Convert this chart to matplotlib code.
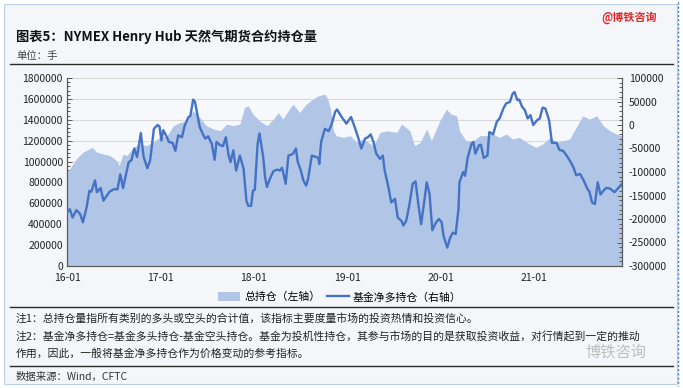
import matplotlib
matplotlib.use("Agg")
import matplotlib.pyplot as plt
from matplotlib.patches import Rectangle, Patch
from matplotlib.lines import Line2D
from matplotlib.ticker import MultipleLocator, FuncFormatter

plt.rcParams['font.family'] = ['Noto Sans CJK SC', 'DejaVu Sans']

# total open interest (left axis), decimal year / contracts
oi_year = [2016.00, 2016.03, 2016.10, 2016.17, 2016.27, 2016.32, 2016.39, 2016.46, 2016.53, 2016.56,
           2016.60, 2016.64, 2016.71, 2016.78, 2016.85, 2016.92, 2016.99, 2017.07, 2017.14, 2017.21,
           2017.28, 2017.35, 2017.42, 2017.49, 2017.57, 2017.64, 2017.71, 2017.78, 2017.85, 2017.90,
           2017.94, 2017.99, 2018.06, 2018.14, 2018.21, 2018.26, 2018.31, 2018.39, 2018.42, 2018.49,
           2018.56, 2018.63, 2018.69, 2018.76, 2018.79, 2018.82, 2018.85, 2018.88, 2018.96, 2019.03,
           2019.10, 2019.17, 2019.28, 2019.35, 2019.42, 2019.53, 2019.58, 2019.67, 2019.72, 2019.78,
           2019.85, 2019.90, 2019.99, 2020.06, 2020.11, 2020.17, 2020.20, 2020.27, 2020.35, 2020.42,
           2020.49, 2020.56, 2020.63, 2020.70, 2020.77, 2020.84, 2020.95, 2021.02, 2021.09, 2021.17,
           2021.24, 2021.31, 2021.38, 2021.45, 2021.52, 2021.59, 2021.67, 2021.74, 2021.81, 2021.88,
           2021.94]
oi_total = [898000, 930000, 1026000, 1089000, 1136000, 1089000, 1073000, 1057000, 1010000, 962000,
            1073000, 1057000, 1136000, 1168000, 1152000, 1184000, 1231000, 1247000, 1343000, 1374000,
            1390000, 1486000, 1422000, 1343000, 1311000, 1295000, 1359000, 1343000, 1359000, 1517000,
            1533000, 1454000, 1390000, 1343000, 1406000, 1470000, 1406000, 1517000, 1549000, 1470000,
            1549000, 1597000, 1629000, 1645000, 1600000, 1500000, 1300000, 1248000, 1231000, 1248000,
            1184000, 1216000, 1152000, 1279000, 1295000, 1279000, 1359000, 1295000, 1152000, 1184000,
            1311000, 1200000, 1390000, 1502000, 1454000, 1438000, 1295000, 1200000, 1200000, 1248000,
            1248000, 1263000, 1231000, 1263000, 1216000, 1231000, 1168000, 1136000, 1168000, 1231000,
            1184000, 1200000, 1216000, 1327000, 1438000, 1406000, 1438000, 1343000, 1295000, 1263000,
            1248000]

# fund net long (right axis), decimal year / contracts
net_year = [2016.00, 2016.03, 2016.06, 2016.10, 2016.14, 2016.17, 2016.21, 2016.24, 2016.26, 2016.30,
            2016.32, 2016.36, 2016.39, 2016.42, 2016.46, 2016.51, 2016.54, 2016.57, 2016.60, 2016.66,
            2016.69, 2016.72, 2016.75, 2016.79, 2016.82, 2016.86, 2016.89, 2016.93, 2016.97, 2016.99,
            2017.01, 2017.03, 2017.07, 2017.09, 2017.13, 2017.16, 2017.19, 2017.23, 2017.26, 2017.30,
            2017.32, 2017.35, 2017.37, 2017.39, 2017.42, 2017.46, 2017.48, 2017.51, 2017.55, 2017.58,
            2017.60, 2017.64, 2017.67, 2017.70, 2017.73, 2017.75, 2017.78, 2017.81, 2017.85, 2017.89,
            2017.92, 2017.94, 2017.97, 2017.99, 2018.01, 2018.04, 2018.06, 2018.10, 2018.12, 2018.14,
            2018.17, 2018.21, 2018.25, 2018.28, 2018.30, 2018.31, 2018.34, 2018.37, 2018.40, 2018.42,
            2018.45, 2018.47, 2018.50, 2018.53, 2018.56, 2018.58, 2018.62, 2018.65, 2018.69, 2018.70,
            2018.72, 2018.76, 2018.80, 2018.83, 2018.87, 2018.89, 2018.94, 2018.99, 2019.04, 2019.08,
            2019.12, 2019.15, 2019.19, 2019.22, 2019.25, 2019.28, 2019.31, 2019.35, 2019.38, 2019.40,
            2019.44, 2019.47, 2019.51, 2019.54, 2019.58, 2019.60, 2019.63, 2019.66, 2019.70, 2019.73,
            2019.76, 2019.79, 2019.82, 2019.85, 2019.88, 2019.91, 2019.95, 2019.98, 2020.01, 2020.03,
            2020.07, 2020.10, 2020.13, 2020.16, 2020.19, 2020.20, 2020.24, 2020.26, 2020.29, 2020.33,
            2020.35, 2020.37, 2020.41, 2020.43, 2020.46, 2020.50, 2020.52, 2020.56, 2020.60, 2020.63,
            2020.67, 2020.70, 2020.74, 2020.77, 2020.79, 2020.82, 2020.84, 2020.87, 2020.90, 2020.93,
            2020.96, 2020.99, 2021.03, 2021.06, 2021.09, 2021.12, 2021.16, 2021.19, 2021.24, 2021.27,
            2021.31, 2021.34, 2021.38, 2021.42, 2021.45, 2021.49, 2021.53, 2021.57, 2021.59, 2021.62,
            2021.65, 2021.68, 2021.71, 2021.74, 2021.77, 2021.81, 2021.86, 2021.91, 2021.94]
net_long = [-186000, -179000, -197000, -181000, -189000, -207000, -175000, -140000, -142000, -118000,
            -143000, -134000, -161000, -152000, -141000, -136000, -137000, -105000, -134000, -79000,
            -75000, -50000, -68000, -17000, -68000, -92000, -75000, -8000, 0, -3000,
            -33000, -11000, -26000, -36000, -38000, -55000, -22000, -26000, -1000, 17000,
            19000, 54000, 49000, 28000, -4000, -22000, -29000, -24000, -40000, -74000,
            -36000, -43000, -45000, -26000, -65000, -79000, -54000, -97000, -65000, -93000,
            -161000, -172000, -172000, -140000, -138000, -40000, -18000, -68000, -111000, -132000,
            -115000, -98000, -95000, -97000, -91000, -97000, -125000, -65000, -63000, -61000,
            -50000, -79000, -95000, -118000, -129000, -115000, -65000, -67000, -70000, -83000,
            -36000, -8000, -13000, 0, 28000, 33000, 17000, 3000, 17000, -5000,
            -29000, -50000, -29000, -26000, -20000, -36000, -61000, -72000, -65000, -97000,
            -132000, -165000, -157000, -197000, -204000, -214000, -204000, -175000, -125000, -120000,
            -168000, -211000, -168000, -122000, -147000, -224000, -207000, -200000, -207000, -236000,
            -261000, -240000, -229000, -232000, -179000, -122000, -100000, -108000, -68000, -40000,
            -36000, -61000, -43000, -42000, -70000, -65000, -15000, -20000, 7000, 14000,
            35000, 46000, 49000, 67000, 70000, 53000, 54000, 39000, 32000, 14000,
            21000, 0, 10000, 14000, 37000, 35000, 10000, -38000, -38000, -53000,
            -55000, -63000, -75000, -90000, -107000, -104000, -118000, -136000, -141000, -165000,
            -168000, -122000, -148000, -140000, -134000, -135000, -143000, -132000, -125000]

tick_years = [2016, 2017, 2018, 2019, 2020, 2021]
tick_labels = ['16-01', '17-01', '18-01', '19-01', '20-01', '21-01']

W, H = 683, 388
fig = plt.figure(figsize=(W / 100, H / 100), dpi=100)
fig.patch.set_facecolor('white')

def fx(px):
    return px / W

def fy(py):
    return 1 - py / H

# card background
fig.patches.append(Rectangle((fx(4), fy(384)), fx(673), 380 / H, transform=fig.transFigure,
                             facecolor='#f4f6fa', edgecolor='#b9cfe8', linewidth=0.8, zorder=-10))
fig.add_artist(Line2D([fx(678), fx(678)], [fy(2), fy(386)], color='#3a7fd5', lw=1.0,
                      linestyle=(0, (1.5, 1.5))))

# header
fig.text(fx(601), fy(18), '@博铁咨询', color='#e02a2a', fontsize=8, fontweight='bold', va='center')
fig.text(fx(16), fy(37), '图表5：NYMEX Henry Hub 天然气期货合约持仓量', fontsize=9.5,
         fontweight='bold', color='#111111', va='center')
fig.text(fx(16), fy(56), '单位：手', fontsize=7.5, color='#444444', va='center')
for yy in (64, 307, 366):
    fig.add_artist(Line2D([fx(10), fx(673)], [fy(yy), fy(yy)], color='#2b2b2b', lw=1.0))

# notes
fig.text(fx(16), fy(318), '注1：总持仓量指所有类别的多头或空头的合计值，该指标主要度量市场的投资热情和投资信心。',
         fontsize=7.8, color='#222222', va='center')
fig.text(fx(16), fy(337), '注2：基金净多持仓=基金多头持仓-基金空头持仓。基金为投机性持仓，其参与市场的目的是获取投资收益，对行情起到一定的推动',
         fontsize=7.8, color='#222222', va='center')
fig.text(fx(16), fy(353), '作用，因此，一般将基金净多持仓作为价格变动的参考指标。',
         fontsize=7.8, color='#222222', va='center')
fig.text(fx(16), fy(377), '数据来源：Wind，CFTC', fontsize=7.5, color='#333333', va='center')
fig.text(fx(585), fy(352), '博铁咨询', fontsize=11, color='#b8b8b8', va='center', alpha=0.9)

# chart
left, right, top, bottom = 67, 622, 78, 266
ax = fig.add_axes([fx(left), fy(bottom), fx(right - left), (bottom - top) / H])
ax.set_facecolor('#f7f8fb')
ax.fill_between(oi_year, 0, oi_total, color='#b1c5e7', lw=0, zorder=2)
ax.set_xlim(2016.0, 2021.94)
ax.set_ylim(0, 1800000)
ax.yaxis.set_major_locator(MultipleLocator(200000))
ax.yaxis.set_minor_locator(MultipleLocator(40000))
ax.yaxis.set_major_formatter(FuncFormatter(lambda v, p: '%d' % v))
ax.grid(axis='y', color='#d9d9d9', lw=0.8, zorder=1)
ax.set_axisbelow(True)
ax.set_xticks(tick_years)
ax.set_xticklabels(tick_labels)

ax2 = ax.twinx()
ax2.plot(net_year, net_long, color='#4472c4', lw=1.7, zorder=3)
ax2.set_ylim(-300000, 100000)
ax2.yaxis.set_major_locator(MultipleLocator(50000))
ax2.yaxis.set_minor_locator(MultipleLocator(10000))
ax2.yaxis.set_major_formatter(FuncFormatter(lambda v, p: '%d' % v))

for a in (ax, ax2):
    a.spines['top'].set_visible(False)
    for s in ('left', 'right', 'bottom'):
        a.spines[s].set_color('#595959')
        a.spines[s].set_linewidth(0.8)
    a.tick_params(axis='both', which='both', direction='in', colors='#595959',
                  labelcolor='#222222', labelsize=7.5, width=0.7)
    a.tick_params(axis='y', which='major', length=3.5)
    a.tick_params(axis='y', which='minor', length=2.5)
    a.tick_params(axis='x', which='major', length=3, pad=5)
ax.tick_params(axis='y', pad=3)
ax2.tick_params(axis='y', pad=5)

handles = [Patch(facecolor='#b1c5e7', edgecolor='none', label='总持仓（左轴）'),
           Line2D([0], [0], color='#4472c4', lw=1.7, label='基金净多持仓（右轴）')]
fig.legend(handles=handles, loc='center', bbox_to_anchor=(fx(340), fy(297)), ncol=2, frameon=False,
           fontsize=7.8, handlelength=2.0, handleheight=0.8, columnspacing=0.6, handletextpad=0.4)

fig.savefig('out.png', dpi=100)
